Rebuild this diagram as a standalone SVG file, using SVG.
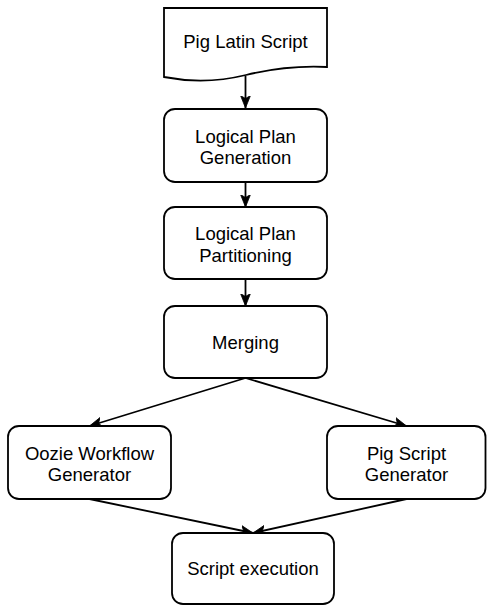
<svg xmlns="http://www.w3.org/2000/svg" width="487" height="606" viewBox="0 0 487 606">
  <defs>
    <style>
      .shape { fill: #ffffff; stroke: #000000; stroke-width: 1.8; }
      .label { font-family: "Liberation Sans", Arial, Helvetica, sans-serif; font-size: 18.5px; fill: #000000; text-anchor: middle; }
      .edge { fill: none; stroke: #000000; stroke-width: 1.8; }
    </style>
    <marker id="arrow" markerWidth="14" markerHeight="12" refX="12.5" refY="6" orient="auto" markerUnits="userSpaceOnUse">
      <path d="M0,1 L12.5,6 L0,11 L3,6 Z" fill="#000000" stroke="#000000" stroke-width="0.8"/>
    </marker>
  </defs>
  <rect width="487" height="606" fill="#ffffff"/>

  <g id="connectors">
    <line class="edge" x1="245.5" y1="76" x2="245.5" y2="108" marker-end="url(#arrow)"/>
    <line class="edge" x1="245.5" y1="182" x2="245.5" y2="207" marker-end="url(#arrow)"/>
    <line class="edge" x1="245.5" y1="279" x2="245.5" y2="306" marker-end="url(#arrow)"/>
    <line class="edge" x1="245.5" y1="378" x2="89.5" y2="426" marker-end="url(#arrow)"/>
    <line class="edge" x1="245.5" y1="378" x2="406.5" y2="426" marker-end="url(#arrow)"/>
    <line class="edge" x1="89.5" y1="499" x2="253" y2="533" marker-end="url(#arrow)"/>
    <line class="edge" x1="406.5" y1="499" x2="253" y2="533" marker-end="url(#arrow)"/>
  </g>

  <g id="pig-latin-script">
    <path class="shape" d="M164,8 H327 V67 Q287,65 246,75 Q205,85 164,77 Z"/>
    <text class="label" x="245.5" y="47.5">Pig Latin Script</text>
  </g>

  <g id="logical-plan-generation">
    <rect class="shape" x="164" y="109" width="163" height="73" rx="11" ry="11"/>
    <text class="label" x="245.5" y="142.5">Logical Plan</text>
    <text class="label" x="245.5" y="164">Generation</text>
  </g>

  <g id="logical-plan-partitioning">
    <rect class="shape" x="164" y="207" width="163" height="72" rx="11" ry="11"/>
    <text class="label" x="245.5" y="240">Logical Plan</text>
    <text class="label" x="245.5" y="261.5">Partitioning</text>
  </g>

  <g id="merging">
    <rect class="shape" x="164" y="306" width="163" height="72" rx="11" ry="11"/>
    <text class="label" x="245.5" y="348.5">Merging</text>
  </g>

  <g id="oozie-workflow-generator">
    <rect class="shape" x="8" y="426" width="163" height="73" rx="11" ry="11"/>
    <text class="label" x="89.5" y="459.5">Oozie Workflow</text>
    <text class="label" x="89.5" y="481">Generator</text>
  </g>

  <g id="pig-script-generator">
    <rect class="shape" x="327" y="426" width="158.5" height="73" rx="11" ry="11"/>
    <text class="label" x="406.5" y="459.5">Pig Script</text>
    <text class="label" x="406.5" y="481">Generator</text>
  </g>

  <g id="script-execution">
    <rect class="shape" x="172" y="533" width="162" height="71" rx="11" ry="11"/>
    <text class="label" x="253" y="575">Script execution</text>
  </g>
</svg>
